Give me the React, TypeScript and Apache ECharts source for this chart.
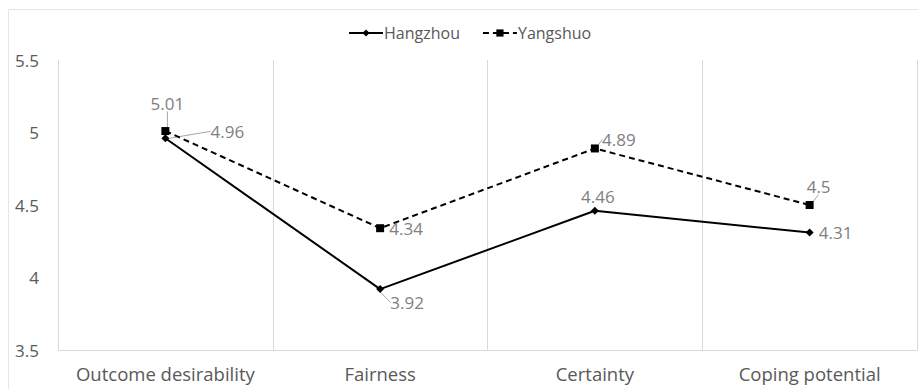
import React, { useEffect, useRef } from "react";
import * as echarts from "echarts";

// Appraisal dimensions and mean scores for the two destinations
const categories = ["Outcome desirability", "Fairness", "Certainty", "Coping potential"];
const hangzhou = [4.96, 3.92, 4.46, 4.31];
const yangshuo = [5.01, 4.34, 4.89, 4.5];
const yTicks = { min: 3.5, max: 5.5, interval: 0.5 };

// Label displacement (px, from the point) and whether a leader line is drawn
const hangzhouLabelShift: [number, number, boolean][] = [
  [62, -7, true],
  [27, 13, true],
  [3, -14, false],
  [26, 0, false],
];
const yangshuoLabelShift: [number, number, boolean][] = [
  [2, -28, true],
  [26, 0, false],
  [24, -9, true],
  [9, -19, true],
];

const FONT = "'Open Sans', sans-serif";
const AXIS_TEXT = "#595959";
const LABEL_TEXT = "#808080";
const GRID_LINE = "#d9d9d9";

function buildData(values: number[], shifts: [number, number, boolean][]) {
  return values.map((v, i) => ({
    value: v,
    labelLine: { show: shifts[i][2] },
  }));
}

export default function App() {
  const ref = useRef<HTMLDivElement>(null);

  useEffect(() => {
    if (!ref.current) return;
    const chart = echarts.init(ref.current, undefined, { renderer: "svg" });
    const shiftTable = [hangzhouLabelShift, yangshuoLabelShift];

    const labelCommon = {
      show: true,
      position: "inside" as const,
      color: LABEL_TEXT,
      fontFamily: FONT,
      fontSize: 17,
    };
    const labelLineCommon = {
      show: true,
      lineStyle: { color: "#a6a6a6", width: 1 },
    };

    chart.setOption({
      animation: false,
      backgroundColor: "#ffffff",
      textStyle: { fontFamily: FONT },
      graphic: [
        {
          type: "rect",
          shape: { x: 8.5, y: 9.5, width: 930, height: 400 },
          style: { fill: "none", stroke: "#e6e6e6", lineWidth: 1 },
          silent: true,
        },
      ],
      legend: {
        top: 20,
        left: 343,
        itemWidth: 34,
        itemHeight: 9,
        itemGap: 22,
        textStyle: { color: AXIS_TEXT, fontSize: 16, fontFamily: FONT, padding: [0, 0, 0, -4] },
        data: ["Hangzhou", "Yangshuo"],
      },
      grid: { left: 58, right: 1, top: 60, bottom: 39 },
      xAxis: {
        type: "category",
        data: categories,
        boundaryGap: true,
        axisLine: { show: true, lineStyle: { color: GRID_LINE, width: 1 } },
        axisTick: { show: false },
        splitLine: { show: true, interval: 0, lineStyle: { color: GRID_LINE, width: 1 } },
        axisLabel: {
          interval: 0,
          color: AXIS_TEXT,
          fontSize: 18.5,
          fontFamily: FONT,
          margin: 14,
        },
      },
      yAxis: {
        type: "value",
        min: yTicks.min,
        max: yTicks.max,
        interval: yTicks.interval,
        axisLine: { show: false },
        axisTick: { show: false },
        splitLine: { show: false },
        axisLabel: { color: AXIS_TEXT, fontSize: 17, fontFamily: FONT, margin: 19 },
      },
      series: [
        {
          name: "Hangzhou",
          type: "line",
          data: buildData(hangzhou, hangzhouLabelShift),
          symbol: "diamond",
          symbolSize: 8,
          lineStyle: { color: "#000", width: 2 },
          itemStyle: { color: "#000" },
          label: labelCommon,
          labelLine: labelLineCommon,
          z: 3,
        },
        {
          name: "Yangshuo",
          type: "line",
          data: buildData(yangshuo, yangshuoLabelShift),
          symbol: "rect",
          symbolSize: 8,
          lineStyle: { color: "#000", width: 2, type: [6, 4] },
          itemStyle: { color: "#000" },
          label: labelCommon,
          labelLine: labelLineCommon,
          z: 4,
        },
      ],
    });

    // Shift each value label off its point, Excel-style
    chart.setOption({
      series: [0, 1].map((s) => ({
        labelLayout: (params: any) => {
          const sh = shiftTable[s][params.dataIndex];
          return { dx: sh[0], dy: sh[1] };
        },
      })),
    });

    return () => chart.dispose();
  }, []);

  return (
    <div
      ref={ref}
      style={{ position: "fixed", left: 0, top: 0, width: 918, height: 389, background: "#fff" }}
    />
  );
}
